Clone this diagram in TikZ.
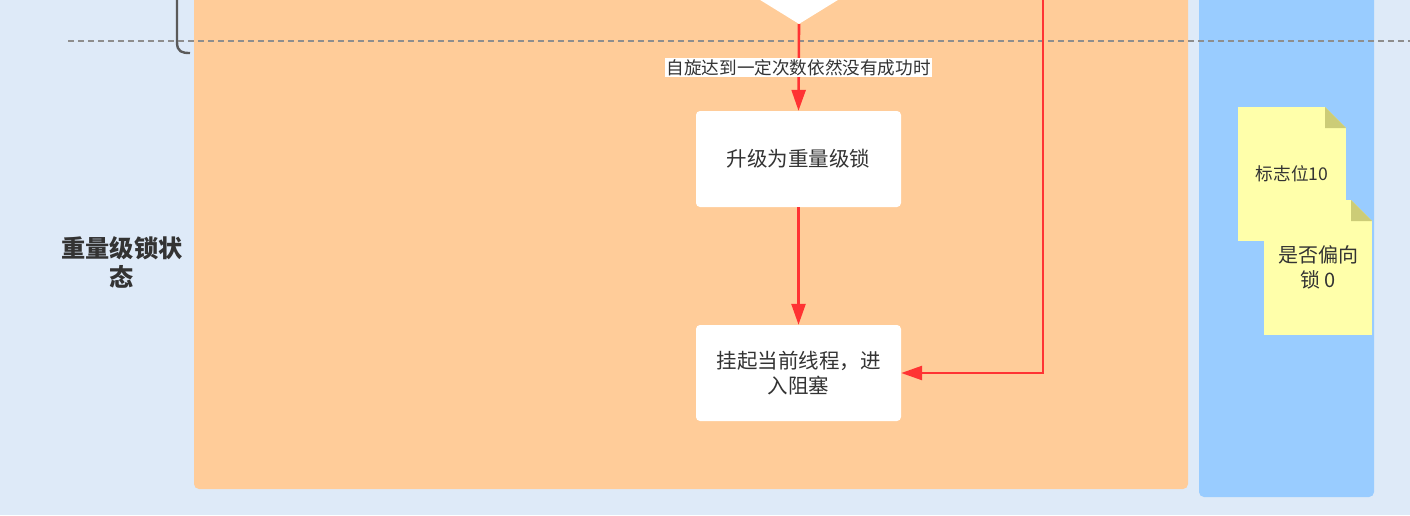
\documentclass[tikz,border=0pt]{standalone}
\usepackage{fontspec}
\setmainfont{Noto Sans CJK SC}
\usepackage{tikz}
\usetikzlibrary{arrows.meta,shapes.geometric}
\definecolor{ink}{HTML}{333333}
\definecolor{pageBg}{HTML}{DEEAF8}
\definecolor{laneO}{HTML}{FFCC99}
\definecolor{laneB}{HTML}{99CCFF}
\definecolor{cRed}{HTML}{FF3333}
\definecolor{cDash}{HTML}{8E8E8E}
\definecolor{cBrace}{HTML}{5A5A5A}
\definecolor{noteY}{HTML}{FFFFAA}
\definecolor{foldC}{HTML}{CCCC77}
\tikzset{
  box/.style   = {rounded corners=4pt, fill=white, minimum width=205pt, minimum height=96pt,
                  align=center, text=ink, inner sep=4pt, font=\fontsize{20.5}{25}\selectfont},
  lab/.style   = {fill=white, text=ink, inner sep=1.5pt, font=\fontsize{17.6}{20}\selectfont},
  state/.style = {align=center, text=ink, font=\fontsize{24.2}{29}\selectfont\bfseries},
  note/.style  = {minimum width=108pt, minimum height=134pt, fill=noteY, inner sep=0pt,
                  align=center, text=ink,
                  path picture={
                    \fill[laneB] ([xshift=-21pt]path picture bounding box.north east)
                      -- (path picture bounding box.north east)
                      -- ([yshift=-21pt]path picture bounding box.north east) -- cycle;
                    \fill[foldC] ([xshift=-21pt]path picture bounding box.north east)
                      -- ([xshift=-21pt,yshift=-21pt]path picture bounding box.north east)
                      -- ([yshift=-21pt]path picture bounding box.north east) -- cycle;}},
  ar/.style    = {-{Triangle[length=21pt,width=14pt]}, line width=2.6pt, draw=cRed},
  sep/.style   = {draw=cDash, line width=2pt, dash pattern=on 6pt off 4pt},
}

\begin{document}
\begin{tikzpicture}[x=1pt, y=-1pt]
  \useasboundingbox (0,0) rectangle (1410,515);
  \begin{scope}
  \clip (0,0) rectangle (1410,515);
  % ---------------- lanes ----------------
  \fill[pageBg] (0,0) rectangle (1410,515);
  \fill[laneO, rounded corners=5pt] (194,-20) rectangle (1188,489);
  \fill[laneB, rounded corners=5pt] (1199,-20) rectangle (1374,497);
  \node[state] (hvy) at (122,262) {重量级锁状\\态};

  % brace end of the lane above
  \draw[cBrace, line width=2.4pt] (177,-10) -- (177,42) .. controls (177,52) and (182,53) .. (190,53);
  \draw[sep] (68,41) -- (1410,41);

  % ---------------- flow ----------------
  \node[diamond, fill=white, minimum width=240pt, minimum height=148pt, inner sep=0pt] (judge) at (799,-50) {};
  \node[box] (up) at (798.5,159) {升级为重量级锁};
  \node[box] (blk) at (798.5,373) {挂起当前线程，进\\入阻塞};
  \coordinate (ok) at (1043,-10);

  \draw[ar] (judge.south) -- (up.north) node[pos=0.5, lab] {自旋达到一定次数依然没有成功时};
  \draw[ar] (up) -- (blk);
  \draw[ar] (ok) |- (blk.east);

  % ---------------- mark word notes ----------------
  \node[note, font=\fontsize{17.6}{20}\selectfont] (flag) at (1292,174) {标志位10};
  \node[note, minimum height=135pt, font=\fontsize{20}{25}\selectfont] (bias) at (1318,267.5) {是否偏向\\锁 0};
  \end{scope}
\end{tikzpicture}
\end{document}
